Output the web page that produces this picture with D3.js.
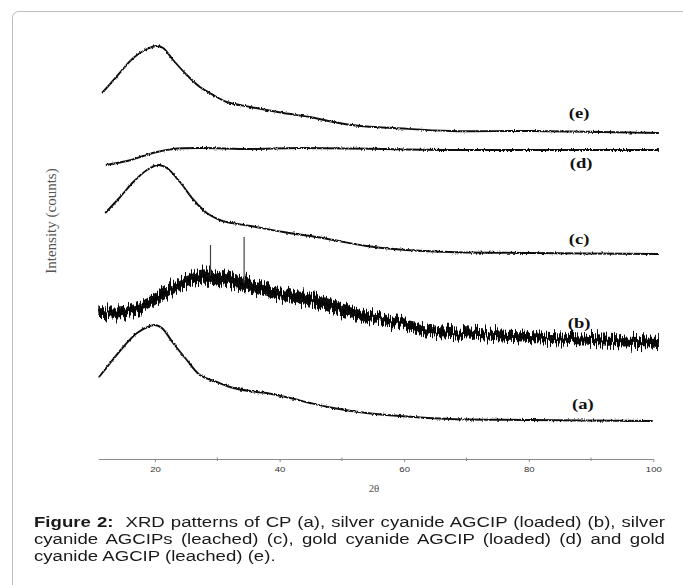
<!DOCTYPE html>
<html>
<head>
<meta charset="utf-8">
<script src="https://cdn.jsdelivr.net/npm/d3@7"></script>
<style>
  body { margin: 0; background: #fff; }
  #wrap { position: relative; width: 683px; height: 585px; overflow: hidden; }
  svg { position: absolute; left: 0; top: 0; }
  /* the scanned figure is stretched sideways, so the text is too */
  .cap { position: absolute; left: 34px; width: 525.8px; font-family: "Liberation Sans", Arial, sans-serif;
         font-size: 15.5px; line-height: 17.3px; color: #1a1a1a; white-space: nowrap;
         transform: scaleX(1.2); transform-origin: 0 0; }
  .cap.j { text-align: justify; text-align-last: justify; }
</style>
</head>
<body>
<div id="wrap"></div>
<script>
// 2θ positions and intensities (arbitrary units)
const thetaA = [11.0, 12.8, 14.9, 17.1, 19.2, 20.0, 21.1, 22.9, 25.1, 27.2, 29.9, 32.6, 36.3, 37.9, 41.7, 44.9, 48.6, 54.0, 59.3, 67.4, 80.2, 99.9];
const intensityA = [82, 96, 112, 126, 133, 134, 131, 116, 99, 84, 77, 71, 67, 66, 61, 56, 51, 46, 43, 40, 39, 38];

const thetaB = [10.9, 14.9, 17.6, 20.3, 22.9, 25.1, 27.2, 29.4, 32.0, 34.3, 36.3, 40.6, 46.0, 51.3, 56.6, 62.0, 67.4, 80.2, 100.9];
const intensityB = [147, 147, 152, 161, 171, 179, 182, 182, 178, 175, 171, 164, 158, 147, 139, 131, 127, 122, 116];
const spreadB = [5, 5, 5, 6, 6, 6, 7, 7, 7, 7, 6, 6, 6, 6, 5, 5, 5, 5, 5];
const spikeTheta = [28.9, 34.3];
const spikeBase = [183, 176];
const spikeTop = [214, 222];

const thetaC = [12.0, 14.4, 16.5, 18.7, 20.5, 21.9, 24.0, 26.2, 28.3, 30.4, 31.5, 35.3, 40.6, 46.0, 48.6, 54.0, 58.3, 67.4, 80.2, 100.9];
const intensityC = [246, 262, 277, 289, 294, 291, 277, 259, 246, 239, 237, 233, 227, 222, 219, 213, 210, 207, 206, 205];

const thetaD = [12.1, 15.5, 18.1, 20.3, 22.9, 27.2, 35.3, 43.3, 67.4, 80.2, 100.9];
const intensityD = [294, 298, 303, 307, 310, 311, 310, 311, 309, 309, 309];

const thetaE = [11.5, 13.9, 16.5, 18.7, 20.3, 21.3, 22.9, 25.1, 27.2, 28.8, 29.9, 31.5, 35.3, 40.6, 44.9, 48.6, 52.9, 58.3, 67.4, 80.2, 100.9];
const intensityE = [366, 383, 401, 410, 413, 411, 399, 384, 372, 366, 362, 357, 352, 346, 342, 337, 333, 331, 328, 328, 326];

const seriesLabels = ["(a)", "(b)", "(c)", "(d)", "(e)"];
const labelTheta = [88.7, 88.1, 88.1, 88.4, 88.1];
const labelIntensity = [55, 136, 220, 296, 346];

const majorTicks = [20, 40, 60, 80, 100];
const minorTicks = [30, 50, 70, 90];

const captionLines = [
  "<b>Figure 2:</b>&nbsp; XRD patterns of CP (a), silver cyanide AGCIP (loaded) (b), silver",
  "cyanide AGCIPs (leached) (c), gold cyanide AGCIP (loaded) (d) and gold",
  "cyanide AGCIP (leached) (e)."
];

function draw() {
  const W = 683, H = 585;
  const wrap = d3.select("#wrap");
  const svg = wrap.append("svg").attr("width", W).attr("height", H);

  // detector noise look: vertical jitter on the traces
  let defs = svg.append("defs");
  function jitter(id, freq, scale, seed) {
    let f = defs.append("filter").attr("id", id)
      .attr("filterUnits", "userSpaceOnUse")
      .attr("x", 0).attr("y", 0).attr("width", W).attr("height", H);
    f.append("feTurbulence").attr("type", "fractalNoise")
      .attr("baseFrequency", freq).attr("numOctaves", 2).attr("seed", seed).attr("result", "n");
    f.append("feColorMatrix").attr("in", "n").attr("type", "matrix")
      .attr("values", "0 0 0 0 0.5  0 1 0 0 0  0 0 0 0 0  0 0 0 0 1").attr("result", "m");
    f.append("feDisplacementMap").attr("in", "SourceGraphic").attr("in2", "m")
      .attr("scale", scale).attr("xChannelSelector", "R").attr("yChannelSelector", "G");
  }
  jitter("fuzz", "0.9 0.3", 3, 3);
  jitter("hair", "0.8 0.02", 20, 7);

  // frame round the figure
  svg.append("rect")
    .attr("x", 12.5).attr("y", 11.5)
    .attr("width", 720).attr("height", 620)
    .attr("rx", 6)
    .attr("fill", "none").attr("stroke", "#bdbdbd");

  let x = d3.scaleLinear().domain([11, 100]).range([99, 653.3]);
  let y = d3.scaleLinear().domain([0, 420]).range([459, 39]);

  let line = d3.line()
    .x((d) => x(d[0]))
    .y((d) => y(d[1]))
    .curve(d3.curveCatmullRom.alpha(0.5));

  const zip = (a, b) => a.map((v, i) => [v, b[i]]);

  // (b) noisy band
  let band = d3.area()
    .x((d) => x(d[0]))
    .y0((d) => y(d[1] - d[2]))
    .y1((d) => y(d[1] + d[2]))
    .curve(d3.curveCatmullRom.alpha(0.5));
  let gb = svg.append("g").attr("filter", "url(#hair)");
  gb.append("path")
    .datum(thetaB.map((v, i) => [v, intensityB[i], spreadB[i]]))
    .attr("d", band)
    .attr("fill", "#111");
  gb.append("path")
    .datum(zip(thetaB, intensityB))
    .attr("d", line)
    .attr("fill", "none").attr("stroke", "#000").attr("stroke-width", 3);
  svg.selectAll(".spike")
    .data(spikeTheta)
    .enter().append("line")
    .attr("class", "spike")
    .attr("x1", (d) => x(d)).attr("x2", (d) => x(d))
    .attr("y1", (d, i) => y(spikeBase[i]))
    .attr("y2", (d, i) => y(spikeTop[i]))
    .attr("stroke", "#444").attr("stroke-width", 1.2);

  // smoother traces
  const traces = [zip(thetaA, intensityA), zip(thetaC, intensityC), zip(thetaD, intensityD), zip(thetaE, intensityE)];
  svg.append("g").attr("filter", "url(#fuzz)")
    .selectAll(".trace")
    .data(traces)
    .enter().append("path")
    .attr("class", "trace")
    .attr("d", line)
    .attr("fill", "none")
    .attr("stroke", "#111")
    .attr("stroke-width", 1.9)
    .attr("stroke-linejoin", "round");

  // series labels
  svg.selectAll(".lab")
    .data(seriesLabels)
    .enter().append("text")
    .attr("class", "lab")
    .attr("transform", (d, i) => "translate(" + x(labelTheta[i]) + "," + y(labelIntensity[i]) + ") scale(1.2,1)")
    .attr("text-anchor", "middle")
    .attr("dominant-baseline", "central")
    .attr("font-family", "Liberation Serif, Times New Roman, serif")
    .attr("font-weight", "bold")
    .attr("font-size", 15.5)
    .attr("fill", "#111")
    .text((d) => d);

  // x axis
  let gx = svg.append("g").attr("transform", "translate(0,459)");
  gx.call(d3.axisBottom(x).tickValues(majorTicks).tickSize(3).tickSizeOuter(0).tickPadding(4));
  gx.select(".domain").attr("stroke", "#8a8a8a").attr("d", "M" + x(11) + ",0.5H" + x(100));
  gx.selectAll(".tick line").attr("stroke", "#8a8a8a");
  gx.selectAll(".tick text")
    .attr("transform", "scale(1.2,1)")
    .attr("font-family", "Liberation Sans, Arial, sans-serif")
    .attr("font-size", 8)
    .attr("fill", "#333");
  gx.selectAll(".minor")
    .data(minorTicks)
    .enter().append("line")
    .attr("class", "minor")
    .attr("x1", (d) => x(d)).attr("x2", (d) => x(d))
    .attr("y1", -1.5).attr("y2", 2)
    .attr("stroke", "#8a8a8a");

  svg.append("text")
    .attr("transform", "translate(374,491.5) scale(1.15,1)")
    .attr("text-anchor", "middle")
    .attr("font-family", "Liberation Serif, Times New Roman, serif")
    .attr("font-size", 9.5)
    .attr("fill", "#555")
    .text("2θ");

  svg.append("text")
    .attr("transform", "translate(56,221) rotate(-90)")
    .attr("text-anchor", "middle")
    .attr("font-family", "Liberation Serif, Times New Roman, serif")
    .attr("font-size", 15)
    .attr("fill", "#555")
    .text("Intensity (counts)");

  // caption
  wrap.selectAll(".cap")
    .data(captionLines)
    .enter().append("div")
    .attr("class", (d, i) => (i < 2 ? "cap j" : "cap"))
    .style("top", (d, i) => (512.7 + i * 17.3) + "px")
    .html((d) => d);
}

window.addEventListener("load", draw);
</script>
</body>
</html>
